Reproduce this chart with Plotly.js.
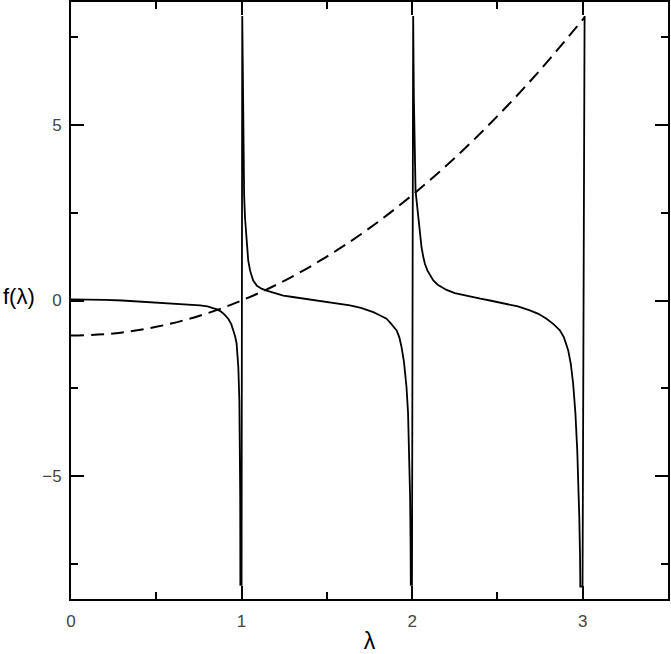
<!DOCTYPE html>
<html>
<head>
<meta charset="utf-8">
<script src="https://cdn.plot.ly/plotly-3.0.1.min.js"></script>
<style>html,body{margin:0;padding:0;background:#fff;}#chart{width:671px;height:654px;}</style>
</head>
<body>
<div id="chart"></div>
<script>
// Solid curve f(λ) (poles near λ = 1, 2, 3)
const lambdaSolid = [
  0.00, 0.10, 0.20, 0.30, 0.40, 0.46, 0.55, 0.64, 0.70, 0.756, 0.80, 0.834, 0.86, 0.883, 0.90, 0.922, 0.94, 0.951, 0.962, 0.971, 0.981, 0.987, 0.990, 0.992, 0.993, 1.000,
  1.004, 1.006, 1.010, 1.015, 1.020, 1.030, 1.039, 1.050, 1.068, 1.09, 1.12, 1.147, 1.20, 1.245, 1.30, 1.342, 1.40, 1.45, 1.50, 1.57, 1.635, 1.70, 1.772, 1.81, 1.85, 1.88, 1.909, 1.925, 1.938, 1.952, 1.967, 1.976, 1.983, 1.988, 1.991, 1.992, 1.999,
  2.006, 2.010, 2.015, 2.020, 2.028, 2.036, 2.045, 2.055, 2.065, 2.075, 2.09, 2.105, 2.124, 2.15, 2.202, 2.25, 2.30, 2.358, 2.40, 2.456, 2.50, 2.554, 2.62, 2.69, 2.74, 2.788, 2.83, 2.866, 2.89, 2.915, 2.93, 2.944, 2.957, 2.968, 2.975, 2.980, 2.984, 2.986, 2.999,
  3.011
];
const fSolid = [
  0.03, 0.03, 0.02, 0.00, -0.03, -0.05, -0.07, -0.09, -0.11, -0.14, -0.17, -0.21, -0.26, -0.33, -0.40, -0.52, -0.68, -0.85, -1.02, -1.23, -1.9, -2.85, -3.9, -5.6, -8.1, -8.1,
  8.1, 6.6, 4.4, 3.0, 2.37, 1.55, 1.14, 0.85, 0.57, 0.42, 0.33, 0.28, 0.20, 0.14, 0.10, 0.07, 0.03, 0.00, -0.03, -0.08, -0.14, -0.21, -0.33, -0.42, -0.52, -0.68, -0.85, -1.05, -1.33, -1.75, -2.47, -3.2, -4.27, -5.6, -7.0, -8.1, -8.1,
  8.1, 5.8, 4.1, 3.13, 2.75, 2.37, 1.9, 1.52, 1.25, 1.04, 0.85, 0.72, 0.57, 0.45, 0.30, 0.21, 0.15, 0.09, 0.05, 0.00, -0.04, -0.09, -0.17, -0.28, -0.38, -0.52, -0.68, -0.85, -1.05, -1.42, -1.8, -2.37, -3.2, -4.27, -5.2, -6.17, -7.2, -8.15, -8.15,
  8.1
];

// Dashed curve
const lambdaDashed = [0, 0.25, 0.5, 0.75, 1, 1.25, 1.5, 1.75, 2, 2.25, 2.5, 2.75, 3, 3.012];
const fDashed = [-1, -0.94, -0.75, -0.44, 0, 0.56, 1.25, 2.06, 3, 4.06, 5.25, 6.56, 8, 8.07];

// Axis ticks
const xTickVals = [0, 1, 2, 3];
const xTickText = ['0', '1', '2', '3'];
const xMinorVals = [0.5, 1.5, 2.5];
const yTickVals = [-5, 0, 5];
const yTickText = ['\u22125', '0', '5'];
const yMinorVals = [-7.5, -2.5, 2.5, 7.5];

const tickFont = {family: 'Liberation Sans, Arial, sans-serif', size: 17, color: '#444'};

const traces = [
  {x: lambdaSolid, y: fSolid, type: 'scatter', mode: 'lines',
   line: {color: '#000', width: 1.8}, hoverinfo: 'skip', showlegend: false},
  {x: lambdaDashed, y: fDashed, type: 'scatter', mode: 'lines',
   line: {color: '#000', width: 2, dash: '13px,7px', shape: 'spline'}, hoverinfo: 'skip', showlegend: false}
];

const layout = {
  width: 671, height: 654,
  margin: {l: 71, r: 3, t: 2, b: 55},
  paper_bgcolor: '#fff', plot_bgcolor: '#fff',
  showlegend: false,
  xaxis: {
    range: [0, 3.5], showgrid: false, zeroline: false,
    showline: true, linecolor: '#000', linewidth: 2, mirror: 'ticks',
    ticks: 'inside', ticklen: 13, tickwidth: 2, tickcolor: '#000',
    tickmode: 'array', tickvals: xTickVals, ticktext: xTickText,
    tickfont: tickFont, ticklabelstandoff: 6,
    minor: {tickmode: 'array', tickvals: xMinorVals, ticks: 'inside', ticklen: 7, tickwidth: 2, tickcolor: '#000', showgrid: false},
    title: {text: '\u03bb', font: {family: 'Liberation Sans, Arial, sans-serif', size: 23, color: '#000'}, standoff: 19},
    automargin: false
  },
  yaxis: {
    range: [-8.5, 8.5], showgrid: false, zeroline: false,
    showline: true, linecolor: '#000', linewidth: 2, mirror: 'ticks',
    ticks: 'inside', ticklen: 13, tickwidth: 2, tickcolor: '#000',
    tickmode: 'array', tickvals: yTickVals, ticktext: yTickText,
    tickfont: tickFont, ticklabelstandoff: 4,
    minor: {tickmode: 'array', tickvals: yMinorVals, ticks: 'inside', ticklen: 7, tickwidth: 2, tickcolor: '#000', showgrid: false},
    automargin: false
  },
  annotations: [{
    text: 'f(\u03bb)', xref: 'paper', yref: 'y', x: -71/597, y: 0.1,
    xanchor: 'left', yanchor: 'middle', showarrow: false, xshift: 1,
    font: {family: 'Liberation Sans, Arial, sans-serif', size: 22, color: '#000'}
  }]
};

Plotly.newPlot('chart', traces, layout, {staticPlot: true, displayModeBar: false});
</script>
</body>
</html>
